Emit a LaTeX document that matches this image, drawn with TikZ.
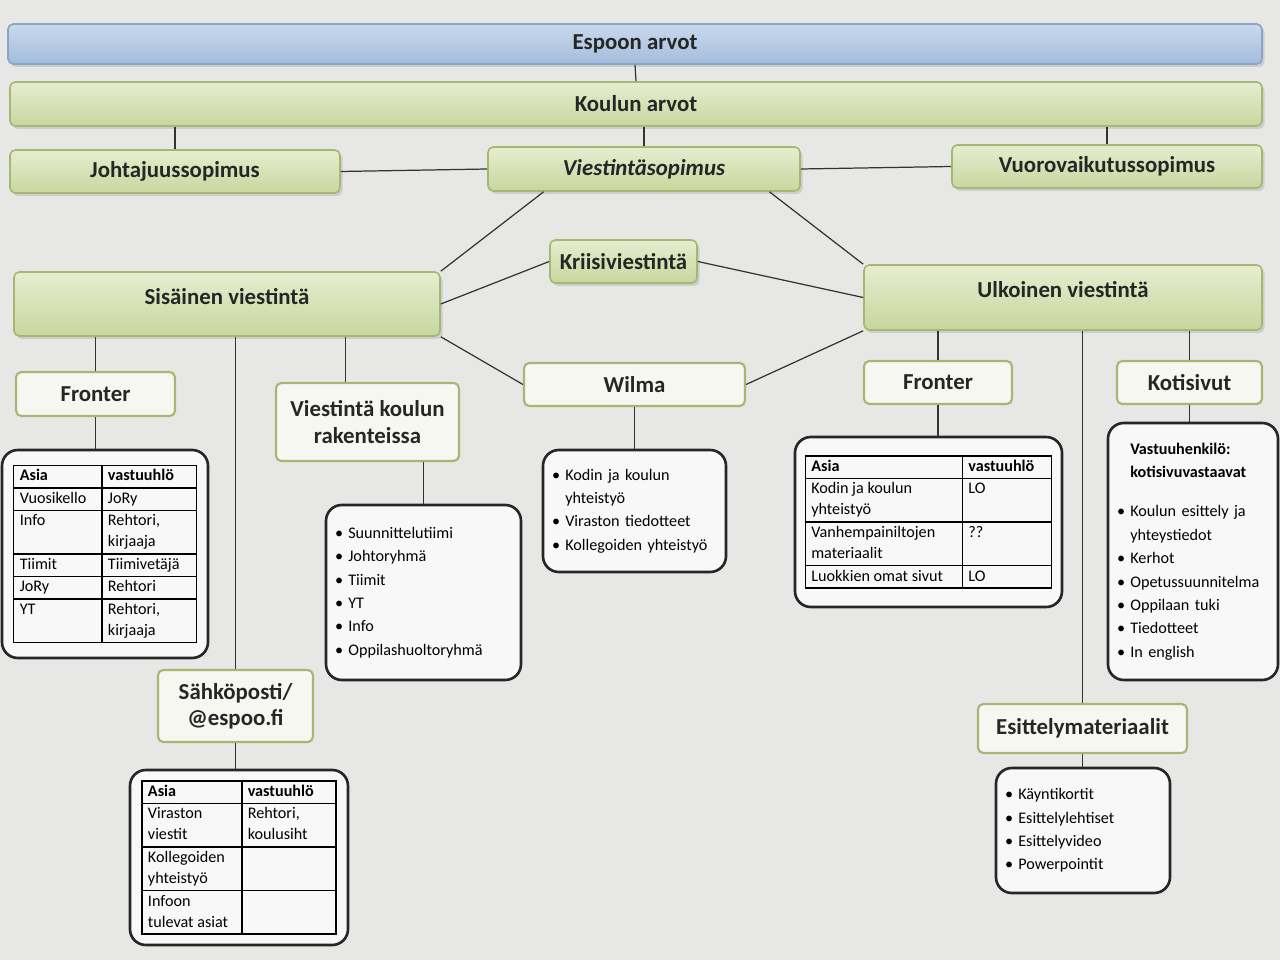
\documentclass[tikz,border=0pt]{standalone}
\usepackage{fontspec}
\setmainfont{Carlito}
\usepackage{array}
\usetikzlibrary{positioning,calc,shadows}

\definecolor{bgc}{HTML}{E7E8E6}
\definecolor{grtop}{HTML}{E6EDCF}
\definecolor{grbot}{HTML}{C8D69E}
\definecolor{grln}{HTML}{A5B772}
\definecolor{bltop}{HTML}{CAD9EC}
\definecolor{blbot}{HTML}{A3BCDC}
\definecolor{blln}{HTML}{8AA4C7}
\definecolor{wtbg}{HTML}{F7F7F2}

\newcommand{\hdfont}{\fontsize{13}{15}\selectfont\bfseries}
\newcommand{\tbfont}{\fontsize{9.2}{12}\selectfont}
\newcommand{\lsfont}{\fontsize{9.2}{13.3}\selectfont}
\newcommand{\itm}{\textbullet\hspace{3pt}}
\newcommand{\itmx}{\phantom{\textbullet}\hspace{3pt}}
\newcolumntype{L}[1]{>{\raggedright\arraybackslash}p{#1}}
\setlength{\tabcolsep}{3pt}
\setlength{\arrayrulewidth}{0.8pt}

\begin{document}
\begin{tikzpicture}[x=0.2mm, y=-0.2mm,
  box/.style={rounded corners=3pt, align=center, inner sep=2pt, font=\hdfont, text=black!85},
  hd/.style={box, draw=grln, line width=0.9pt, top color=grtop, bottom color=grbot,
    drop shadow={opacity=0.25, shadow xshift=0.5mm, shadow yshift=-0.6mm}},
  bl/.style={hd, draw=blln, top color=bltop, bottom color=blbot},
  wt/.style={box, draw=grln, line width=1.2pt, fill=wtbg},
  ct/.style={draw=black!85, line width=1.5pt, rounded corners=9pt, fill=white!70!bgc, inner sep=0pt, font=\tbfont},
  ls/.style={ct, align=left, font=\lsfont, inner xsep=1.8mm},
  ln/.style={draw=black!80, line width=0.7pt}
]
\useasboundingbox (0,0) rectangle (1280,960);
\fill[bgc] (0,0) rectangle (1280,960);

% top levels
\node[bl, minimum width=250.8mm, minimum height=8mm] (ea) at (635,44) {Espoon arvot};
\node[hd, minimum width=250.4mm, minimum height=8.8mm] (ka) at (636,104) {Koulun arvot};
\node[hd, minimum width=66mm, minimum height=8.6mm] (jh) at (175,171.5) {Johtajuussopimus};
\node[hd, minimum width=62.4mm, minimum height=8.8mm] (vs) at (644,169) {\itshape Viestintäsopimus};
\node[hd, minimum width=62mm, minimum height=8.6mm] (vv) at (1107,166.5) {Vuorovaikutussopimus};
\node[hd, minimum width=29.4mm, minimum height=8.6mm] (kr) at (623.5,261.5) {Kriisiviestintä};
\node[hd, minimum width=85.2mm, minimum height=12.8mm, text depth=3.2mm] (si) at (227,304) {Sisäinen viestintä};
\node[hd, minimum width=79.6mm, minimum height=13mm, text depth=3.2mm] (ul) at (1063,297.5) {Ulkoinen viestintä};

% channels
\node[wt, minimum width=44.2mm, minimum height=8.6mm] (wm) at (634.5,384.5) {Wilma};
\node[wt, minimum width=31.8mm, minimum height=8.8mm] (fl) at (95.5,394) {Fronter};
\node[wt, minimum width=36.6mm, minimum height=15.6mm] (rk) at (367.5,422) {Viestintä koulun\\ rakenteissa};
\node[wt, minimum width=31mm, minimum height=14.4mm] (sp) at (235.5,706) {Sähköposti/\\ @espoo.fi};
\node[wt, minimum width=29.6mm, minimum height=8.6mm] (fr) at (938,382.5) {Fronter};
\node[wt, minimum width=29mm, minimum height=8.6mm] (ks) at (1189.5,382.5) {Kotisivut};
\node[wt, minimum width=41.8mm, minimum height=9.8mm] (em) at (1082.5,728.5) {Esittelymateriaalit};

% contents
\node[ct, minimum width=41.2mm, minimum height=41.6mm] (ftl) at (105,554) {%
  \begin{tabular}{|L{43.4pt}|L{46.8pt}|}\hline
  \textbf{Asia} & \textbf{vastuuhlö}\\\hline
  Vuosikello & JoRy\\\hline
  Info & Rehtori,\newline kirjaaja\\\hline
  Tiimit & Tiimivetäjä\\\hline
  JoRy & Rehtori\\\hline
  YT & Rehtori,\newline kirjaaja\\\hline
  \end{tabular}};
\node[ct, minimum width=43.6mm, minimum height=35mm] (spt) at (239,857.5) {%
  \begin{tabular}{|L{50pt}|L{46.8pt}|}\hline
  \textbf{Asia} & \textbf{vastuuhlö}\\\hline
  Viraston\newline viestit & Rehtori,\newline koulusiht\\\hline
  Kollegoiden\newline yhteistyö & \\\hline
  Infoon\newline tulevat asiat & \\\hline
  \end{tabular}};
\node[ct, minimum width=53.4mm, minimum height=34mm] (frt) at (928.5,522) {%
  \begin{tabular}{|L{82.6pt}|L{44pt}|}\hline
  \textbf{Asia} & \textbf{vastuuhlö}\\\hline
  Kodin ja koulun\newline yhteistyö & LO\\\hline
  Vanhempainiltojen\newline materiaalit & ??\\\hline
  Luokkien omat sivut & LO\\\hline
  \end{tabular}};
\node[ls, text width=35.4mm, minimum height=35mm] (rl) at (423.5,592.5) {%
  \itm Suunnittelutiimi\\ \itm Johtoryhmä\\ \itm Tiimit\\ \itm YT\\ \itm Info\\ \itm Oppilashuoltoryhmä};
\node[ls, text width=33mm, minimum height=24.4mm] (wl) at (634.5,511) {%
  \itm Kodin ja koulun\\ \itmx yhteistyö\\ \itm Viraston tiedotteet\\ \itm Kollegoiden yhteistyö};
\node[ls, text width=30.4mm, minimum height=51.4mm] (kl) at (1193,551.5) {%
  \itmx\textbf{Vastuuhenkilö:}\\ \itmx\textbf{kotisivuvastaavat}\\[9pt]
  \itm Koulun esittely ja\\ \itmx yhteystiedot\\ \itm Kerhot\\ \itm Opetussuunnitelma\\
  \itm Oppilaan tuki\\ \itm Tiedotteet\\ \itm In english};
\node[ls, text width=31.2mm, minimum height=25mm] (el) at (1083,830.5) {%
  \itm Käyntikortit\\ \itm Esittelylehtiset\\ \itm Esittelyvideo\\ \itm Powerpointit};

% connectors
\draw[ln] (ea.south) -- (ka.north);
\draw[ln] (jh.north |- ka.south) -- (jh.north);
\draw[ln] (vs.north |- ka.south) -- (vs.north);
\draw[ln] (vv.north |- ka.south) -- (vv.north);
\draw[ln] (jh.east) -- (vs.west);
\draw[ln] (vs.east) -- (vv.west);
\draw[ln] ($(vs.south west)!0.18!(vs.south east)$) -- (si.north east);
\draw[ln] ($(vs.south west)!0.9!(vs.south east)$) -- (ul.north west);
\draw[ln] (kr.west) -- (si.east);
\draw[ln] (kr.east) -- (ul.west);
\draw[ln] (si.south east) -- (wm.west);
\draw[ln] (ul.south west) -- (wm.east);
\coordinate (rkt) at ($(rk.north west)!0.38!(rk.north east)$);
\draw[ln] (fl.north |- si.south) -- (fl.north);
\draw[ln] (sp.north |- si.south) -- (sp.north);
\draw[ln] (rkt |- si.south) -- (rkt);
\draw[ln] (fl.south) -- (fl.south |- ftl.north);
\draw[ln] (rl.north |- rk.south) -- (rl.north);
\draw[ln] (wm.south) -- (wm.south |- wl.north);
\draw[ln] (sp.south) -- (sp.south |- spt.north);
\draw[ln] (fr.north |- ul.south) -- (fr.north);
\draw[ln] (em.north |- ul.south) -- (em.north);
\draw[ln] (ks.north |- ul.south) -- (ks.north);
\draw[ln] (fr.south) -- (fr.south |- frt.north);
\draw[ln] (ks.south) -- (ks.south |- kl.north);
\draw[ln] (em.south) -- (em.south |- el.north);
\end{tikzpicture}
\end{document}
